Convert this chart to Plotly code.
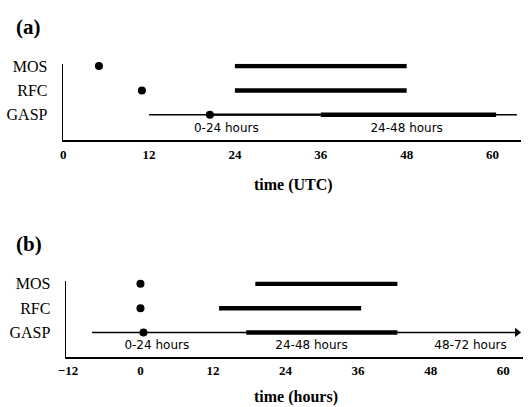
import plotly.graph_objects as go

W, H = 532, 407

rows = ["MOS", "RFC", "GASP"]
row_pos = [3, 2, 1]

# Panel (a): time (UTC)
a_ticks = [0, 12, 24, 36, 48, 60]
a_dot_hours = [5, 11, 20.5]           # MOS, RFC, GASP issue times
a_bar_start = [24, 24, 36]            # forecast valid windows (thick bars)
a_bar_end = [48, 48, 60.5]
a_gasp_thin = [12, 63.4]
a_gasp_medium = [20.5, 36]
a_labels = ["0-24 hours", "24-48 hours"]
a_label_x = [22.8, 48]

# Panel (b): time (hours)
b_ticks = [-12, 0, 12, 24, 36, 48, 60]
b_dot_hours = [0, 0, 0.5]
b_bar_start = [19, 13, 17.5]
b_bar_end = [42.5, 36.5, 42.5]
b_gasp_thin = [-8, 62.3]
b_labels = ["0-24 hours", "24-48 hours", "48-72 hours"]
b_label_x = [2.7, 28.3, 54.6]


def px_x(p):
    return p / W


def px_y(p):
    return 1 - p / H


fig = go.Figure()

SERIF = "Liberation Serif, Times New Roman, serif"
SANS = "DejaVu Sans, Verdana, sans-serif"


def add_panel(xa, ya, dots, starts, ends, thin, medium, labels, label_x, label_y, arrow):
    xr, yr = xa, ya
    fig.add_trace(go.Scatter(x=thin, y=[1, 1], mode="lines", xaxis=xr, yaxis=yr,
                             line=dict(color="black", width=1.4), cliponaxis=False))
    if medium is not None:
        fig.add_trace(go.Scatter(x=medium, y=[1, 1], mode="lines", xaxis=xr, yaxis=yr,
                                 line=dict(color="black", width=2.2), cliponaxis=False))
    if arrow:
        fig.add_trace(go.Scatter(x=[thin[1]], y=[1], mode="markers", xaxis=xr, yaxis=yr,
                                 marker=dict(symbol="triangle-right", size=8, color="black"),
                                 cliponaxis=False))
    for r, s, e in zip(row_pos, starts, ends):
        fig.add_trace(go.Scatter(x=[s, e], y=[r, r], mode="lines", xaxis=xr, yaxis=yr,
                                 line=dict(color="black", width=4.5), cliponaxis=False))
    fig.add_trace(go.Scatter(x=dots, y=row_pos, mode="markers", xaxis=xr, yaxis=yr,
                             marker=dict(size=8, color="black"), cliponaxis=False))
    fig.add_trace(go.Scatter(x=label_x, y=[label_y] * len(labels), mode="text", text=labels,
                             xaxis=xr, yaxis=yr, textposition="middle center",
                             textfont=dict(family=SANS, size=12, color="black"),
                             cliponaxis=False))


add_panel("x", "y", a_dot_hours, a_bar_start, a_bar_end, a_gasp_thin, a_gasp_medium,
          a_labels, a_label_x, 0.43, False)
add_panel("x2", "y2", b_dot_hours, b_bar_start, b_bar_end, b_gasp_thin, None,
          b_labels, b_label_x, 0.45, True)

xcommon = dict(showline=True, linecolor="black", linewidth=2, ticks="", showgrid=False,
               zeroline=False, tickfont=dict(family=SERIF, size=13, color="black", weight="bold"),
               ticklabelstandoff=1, fixedrange=True)
ycommon = dict(showline=True, linecolor="black", linewidth=1.5, ticks="", showgrid=False,
               zeroline=False, tickvals=row_pos, ticktext=rows,
               tickfont=dict(family=SERIF, size=16, color="black"),
               ticklabelstandoff=11, fixedrange=True)

# y ranges are extended a little above the MOS row so its bar is not clipped
a_top, b_top = 3.1, 3.1
a_sp = 75 / 3.04           # px per row unit in (a)
b_sp = 74 / 3.0            # px per row unit in (b)

fig.update_layout(
    width=W, height=H, margin=dict(l=0, r=0, t=0, b=0),
    paper_bgcolor="white", plot_bgcolor="white", showlegend=False, hovermode=False,
    xaxis=dict(**xcommon, domain=[px_x(56), px_x(521)], range=[0, 64], tickvals=a_ticks,
               anchor="y"),
    yaxis=dict(**ycommon, domain=[px_y(136), px_y(61 - (a_top - 3) * a_sp)],
               range=[-0.04, a_top], anchor="x"),
    xaxis2=dict(**xcommon, domain=[px_x(59), px_x(523)], range=[-12.3, 63.3], tickvals=b_ticks,
                anchor="y2"),
    yaxis2=dict(**ycommon, domain=[px_y(356), px_y(282 - (b_top - 3) * b_sp)],
                range=[0, b_top], anchor="x2"),
)

ann_font = dict(family=SERIF, color="black", weight="bold")
fig.add_annotation(text="(a)", x=px_x(6), y=px_y(21), xref="paper", yref="paper",
                   xanchor="left", yanchor="middle", showarrow=False, font=dict(**ann_font, size=21))
fig.add_annotation(text="(b)", x=px_x(6), y=px_y(242), xref="paper", yref="paper",
                   xanchor="left", yanchor="middle", showarrow=False, font=dict(**ann_font, size=21))
fig.add_annotation(text="time (UTC)", x=px_x(290), y=px_y(182), xref="paper", yref="paper",
                   xanchor="center", yanchor="middle", showarrow=False, font=dict(**ann_font, size=16))
fig.add_annotation(text="time (hours)", x=px_x(292), y=px_y(397), xref="paper", yref="paper",
                   xanchor="center", yanchor="middle", showarrow=False, font=dict(**ann_font, size=16))

fig.write_html("out.html", config={"displayModeBar": False, "staticPlot": True},
               post_script="document.body.style.margin='0';document.body.style.padding='0';")
